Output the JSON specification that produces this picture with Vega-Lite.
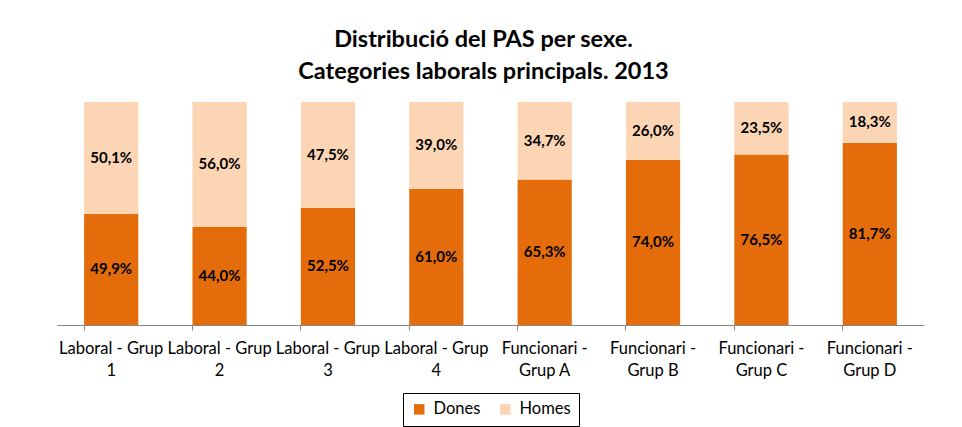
{
  "$schema": "https://vega.github.io/schema/vega-lite/v6.json",
  "width": 867,
  "height": 223,
  "padding": {"left": 57, "top": 27, "right": 38, "bottom": 3},
  "background": "white",
  "title": {
    "text": ["Distribució del PAS per sexe.", "Categories laborals principals. 2013"],
    "font": "Lato",
    "fontSize": 23.5,
    "fontWeight": "bold",
    "lineHeight": 32,
    "offset": 19,
    "dx": -7,
    "color": "#000000",
    "anchor": "middle"
  },
  "data": {
    "values": [
      {"cat": "Laboral - Grup 1", "sexe": "Dones", "value": 0.499},
      {"cat": "Laboral - Grup 1", "sexe": "Homes", "value": 0.501},
      {"cat": "Laboral - Grup 2", "sexe": "Dones", "value": 0.44},
      {"cat": "Laboral - Grup 2", "sexe": "Homes", "value": 0.56},
      {"cat": "Laboral - Grup 3", "sexe": "Dones", "value": 0.525},
      {"cat": "Laboral - Grup 3", "sexe": "Homes", "value": 0.475},
      {"cat": "Laboral - Grup 4", "sexe": "Dones", "value": 0.61},
      {"cat": "Laboral - Grup 4", "sexe": "Homes", "value": 0.39},
      {"cat": "Funcionari - Grup A", "sexe": "Dones", "value": 0.653},
      {"cat": "Funcionari - Grup A", "sexe": "Homes", "value": 0.347},
      {"cat": "Funcionari - Grup B", "sexe": "Dones", "value": 0.74},
      {"cat": "Funcionari - Grup B", "sexe": "Homes", "value": 0.26},
      {"cat": "Funcionari - Grup C", "sexe": "Dones", "value": 0.765},
      {"cat": "Funcionari - Grup C", "sexe": "Homes", "value": 0.235},
      {"cat": "Funcionari - Grup D", "sexe": "Dones", "value": 0.817},
      {"cat": "Funcionari - Grup D", "sexe": "Homes", "value": 0.183}
    ]
  },
  "transform": [
    {"stack": "value", "groupby": ["cat"], "as": ["v0", "v1"], "sort": [{"field": "sexe", "order": "ascending"}]},
    {"calculate": "(datum.v0 + datum.v1) / 2", "as": "mid"}
  ],
  "encoding": {
    "x": {
      "field": "cat",
      "type": "nominal",
      "sort": null,
      "scale": {"paddingInner": 0.5, "paddingOuter": 0.25},
      "axis": {
        "title": null,
        "labelAngle": 0,
        "labelFont": "Lato",
        "labelFontSize": 16.5,
        "labelColor": "#000000",
        "labelLineHeight": 22,
        "labelPadding": 10,
        "labelLimit": 0,
        "labelOverlap": false,
        "labelExpr": "substring(datum.label, 0, 7) == 'Laboral' ? ['Laboral - Grup', substring(datum.label, 15)] : ['Funcionari -', substring(datum.label, 13)]",
        "domainColor": "#868686",
        "tickColor": "#868686",
        "tickSize": 5,
        "bandPosition": 0
      }
    }
  },
  "layer": [
    {
      "mark": {"type": "bar"},
      "encoding": {
        "y": {"field": "v0", "type": "quantitative", "scale": {"domain": [0, 1]}, "axis": null},
        "y2": {"field": "v1"},
        "color": {
          "field": "sexe",
          "type": "nominal",
          "scale": {"domain": ["Dones", "Homes"], "range": ["#E46C0A", "#FCD5B5"]},
          "legend": {
            "title": null,
            "orient": "bottom",
            "direction": "horizontal",
            "strokeColor": "#000000",
            "padding": 8,
            "offset": 14,
            "labelFont": "Lato",
            "labelFontSize": 16.5,
            "labelColor": "#000000",
            "labelOffset": 6,
            "symbolType": "square",
            "symbolSize": 110,
            "symbolStrokeWidth": 0,
            "columnPadding": 16
          }
        }
      }
    },
    {
      "mark": {"type": "text", "font": "Lato", "fontSize": 15, "fontWeight": "bold", "color": "#000000"},
      "encoding": {
        "y": {"field": "mid", "type": "quantitative"},
        "text": {"field": "value", "type": "quantitative", "format": ".1%"}
      }
    }
  ],
  "config": {
    "view": {"stroke": null},
    "legend": {"layout": {"bottom": {"anchor": "middle"}}},
    "locale": {"number": {"decimal": ",", "thousands": ".", "grouping": [3], "currency": ["", " €"]}}
  }
}
